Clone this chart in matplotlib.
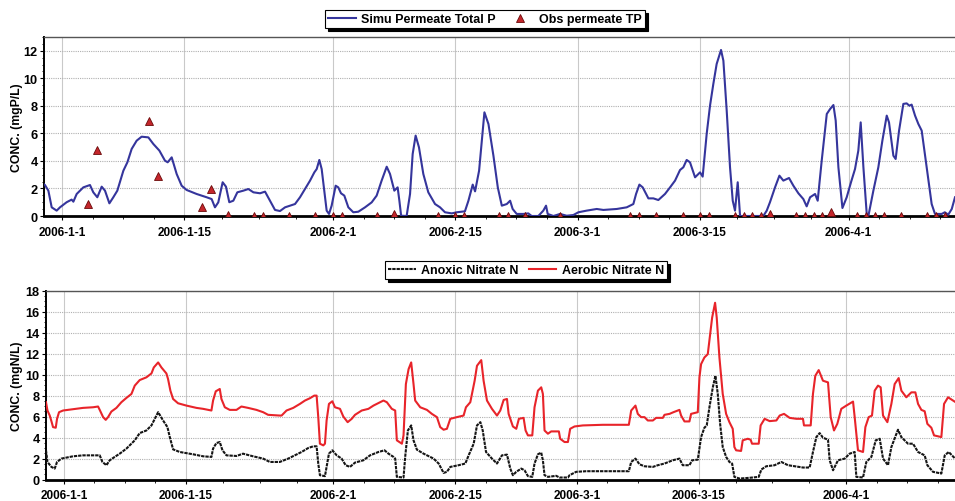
import numpy as np
import matplotlib
matplotlib.use("Agg")
import matplotlib.pyplot as plt
import matplotlib.dates as mdates
from matplotlib.ticker import FixedLocator, AutoMinorLocator, FuncFormatter

plt.rcParams["font.family"] = ["Liberation Sans", "DejaVu Sans"]
plt.rcParams["font.weight"] = "bold"

START = np.datetime64("2006-01-01T00:00")

# ---------------- data (days after 2006-01-01) ----------------
tp_sim_days = [-2.06, -1.95, -1.56, -1.18, -0.61, -0.23, 0.53, 1.1, 1.3, 1.68, 2.44, 3.2, 3.58, 4.04,
               4.54, 4.92, 5.42, 5.87, 6.33, 7.02, 7.48, 7.97, 8.54, 9.11, 9.88, 10.45, 11.14, 11.78,
               12.09, 12.55, 13.12, 13.69, 14.26, 15.4, 16.55, 17.12, 17.5, 17.88, 18.38, 18.76,
               19.14, 19.6, 20.06, 20.75, 21.32, 21.9, 22.66, 23.23, 23.8, 24.37, 24.94, 25.52,
               26.09, 26.66, 27.23, 27.8, 28.38, 28.87, 29.14, 29.44, 29.71, 30.01, 30.28, 30.55,
               30.85, 31.31, 31.61, 31.92, 32.3, 32.76, 33.33, 33.9, 34.67, 35.43, 36.0, 36.57,
               37.15, 37.53, 38.02, 38.4, 38.6, 38.8, 39.43, 39.82, 40.12, 40.46, 40.84, 41.34,
               41.91, 42.68, 43.25, 43.82, 44.59, 45.16, 46.1, 46.5, 46.99, 47.26, 47.72, 48.33,
               48.79, 49.36, 49.86, 50.32, 50.89, 51.27, 51.56, 52.02, 52.78, 53.35, 53.73, 54.5,
               55.07, 55.38, 55.57, 56.22, 56.98, 57.74, 58.5, 59.08, 60.03, 61.18, 61.94, 63.47,
               64.61, 65.37, 65.68, 66.06, 66.44, 67.09, 67.66, 68.23, 68.99, 69.57, 70.14, 70.71,
               71.09, 71.47, 71.85, 72.43, 73.0, 73.3, 73.76, 74.14, 74.52, 74.9, 75.4, 75.67,
               76.05, 76.43, 76.74, 77.0, 77.31, 77.58, 78.15, 80.24, 80.63, 81.0, 81.58, 82.08,
               82.53, 83.18, 83.68, 84.25, 84.82, 85.2, 85.59, 86.16, 86.46, 86.92, 87.5, 87.88,
               88.26, 88.52, 88.83, 89.29, 89.78, 90.27, 90.73, 91.11, 91.38, 91.69, 92.07, 92.26,
               92.83, 93.4, 93.86, 94.36, 94.62, 95.12, 95.38, 95.77, 96.26, 96.64, 96.95, 97.21,
               97.6, 97.98, 98.36, 98.93, 99.5, 99.88, 100.65, 101.0, 101.4, 101.8, 102.17]
tp_sim_vals = [2.3, 2.25, 1.84, 0.63, 0.39, 0.63, 1.0, 1.19, 1.04, 1.6, 2.08, 2.25, 1.72, 1.36,
               2.13, 1.84, 0.92, 1.36, 1.84, 3.29, 3.9, 4.87, 5.47, 5.76, 5.71, 5.23, 4.75, 4.02,
               3.9, 4.26, 3.05, 2.2, 1.89, 1.6, 1.36, 1.23, 0.63, 0.99, 2.45, 2.13,
               1.0, 1.11, 1.72, 1.84, 1.96, 1.72, 1.65, 1.77, 1.11, 0.44, 0.36, 0.63,
               0.75, 0.87, 1.36, 1.96, 2.57, 3.17, 3.41, 4.07, 3.41, 1.84, 0.39, 0.15,
               0.75, 2.2, 2.08, 1.65, 1.48, 0.63, 0.27, 0.31, 0.63, 0.99, 1.48, 2.57,
               3.58, 3.05, 1.84, 2.08, 1.11, 0.02, 0.0, 1.6, 4.5, 5.84, 4.99, 3.05,
               1.72, 0.87, 0.63, 0.27, 0.19, 0.27, 0.34, 1.11, 2.28, 1.79, 3.29, 7.53,
               6.68, 4.38, 2.08, 0.75, 0.87, 1.11, 0.51, 0.15, 0.15, 0.19, 0.0, 0.0,
               0.39, 0.75, 0.15, 0.0, 0.15, 0.02, 0.07, 0.27, 0.39, 0.51, 0.44, 0.51,
               0.63, 0.87, 1.6, 2.28, 2.08, 1.28, 1.28, 1.16, 1.6, 2.08, 2.57, 3.34,
               3.54, 4.07, 3.9, 2.81, 3.17, 2.86, 5.96, 8.01, 9.59, 11.04, 12.06, 11.28,
               7.65, 3.54, 1.11, 0.39, 2.45, 0.0, 0.0, 0.0, 0.39, 1.0, 2.08, 2.93,
               2.57, 2.76, 2.2, 1.65, 1.23, 0.7, 1.36, 1.6, 1.11, 4.02, 7.41, 7.77,
               8.06, 6.93, 3.54, 0.58, 1.36, 2.45, 3.41, 4.75, 6.8, 3.54, 0.15, 0.0,
               1.84, 3.54, 5.47, 7.29, 6.8, 4.38, 4.14, 6.2, 8.14, 8.18, 8.01, 8.09,
               7.29, 6.68, 6.2, 3.54, 0.87, 0.15, 0.15, 0.27, 0.1, 0.51, 1.36]

tp_obs_days = [3, 4, 10, 11, 16, 17, 19, 22, 23, 26, 29, 31, 32, 36, 38, 43, 45, 46, 50, 51, 53,
               57, 65, 66, 68, 71, 73, 74, 77, 78, 79, 80, 81, 84, 85, 86, 87, 88, 91, 92, 93, 94,
               96, 99, 100, 101]
tp_obs_vals = [0.9, 4.8, 6.9, 2.9, 0.65, 1.95, 0.05, 0.0, 0.0, 0.0, 0.0, 0.0, 0.0, 0.0, 0.15, 0.0,
               0.0, 0.0, 0.0, 0.0, 0.0, 0.0, 0.0, 0.0, 0.0, 0.0, 0.0, 0.0, 0.0, 0.0, 0.0, 0.0, 0.15,
               0.0, 0.0, 0.0, 0.0, 0.3, 0.0, 0.0, 0.0, 0.0, 0.0, 0.0, 0.0, 0.0]

aerobic_days = [-2.07, -1.9, -1.64, -1.45, -1.26, -0.95, -0.8, -0.57, -0.11, 1.04, 2.19, 3.34, 3.92,
                4.11, 4.5, 4.8, 5.07, 5.45, 6.03, 6.6, 7.18, 7.76, 8.14, 8.71, 9.48, 10.06, 10.33,
                10.83, 11.21, 11.78, 11.97, 12.24, 12.55, 13.12, 14.08, 15.24, 16.0, 16.96, 17.15,
                17.46, 17.92, 18.11, 18.5, 19.07, 19.84, 20.41, 21.18, 22.14, 22.91, 23.48, 24.82,
                25.03, 25.6, 26.37, 27.14, 27.72, 28.29, 28.79, 29.06, 29.25, 29.44, 29.83, 30.02,
                30.21, 30.48, 30.87, 31.17, 31.75, 32.13, 32.63, 33.1, 33.48, 34.25, 35.02, 35.6,
                36.37, 36.75, 37.14, 37.71, 38.1, 38.29, 38.87, 39.06, 39.33, 39.64, 39.94, 40.21,
                40.4, 40.98, 41.75, 42.32, 42.9, 43.28, 43.67, 44.05, 44.44, 45.2, 45.97, 46.24,
                46.74, 47.24, 47.51, 48.0, 48.27, 48.66, 49.23, 49.81, 50.19, 50.58, 50.96, 51.15,
                51.64, 52.03, 52.33, 52.87, 53.1, 53.37, 53.87, 54.13, 54.52, 54.9, 55.09, 55.28,
                55.67, 56.05, 56.93, 57.08, 57.58, 57.97, 58.23, 58.73, 59.69, 61.99, 64.98, 65.25,
                65.74, 66.01, 66.39, 66.78, 67.16, 67.74, 68.12, 68.89, 69.08, 69.66, 70.11, 70.8,
                70.99, 71.38, 71.95, 72.14, 72.91, 73.1, 73.29, 73.67, 74.06, 74.33, 74.56, 74.9,
                75.09, 75.4, 75.78, 76.17, 76.55, 76.93, 77.12, 77.32, 77.89, 78.08, 78.66, 78.99,
                79.15, 79.92, 80.14, 80.6, 81.18, 81.95, 82.33, 82.83, 83.48, 84.25, 85.01, 85.13,
                85.9, 86.16, 86.43, 86.82, 87.31, 87.89, 88.2, 88.58, 88.96, 89.42, 90.0, 90.77,
                90.96, 91.34, 91.92, 92.19, 92.57, 92.95, 93.26, 93.64, 93.95, 94.22, 94.72, 95.18,
                95.56, 96.02, 96.33, 96.9, 97.48, 97.94, 98.25, 98.63, 99.01, 99.32, 99.78, 100.09,
                100.93, 101.24, 101.7, 102.5]
aerobic_vals = [7.36, 6.57, 6.09, 5.56, 4.99, 4.93, 5.78, 6.41, 6.57, 6.69, 6.82, 6.88, 6.95,
                6.63, 5.94, 5.68, 5.94, 6.47, 6.82, 7.36, 7.77, 8.15, 8.94, 9.47, 9.73, 10.1, 10.67,
                11.15, 10.67, 10.1, 9.57, 8.46, 7.67, 7.26, 7.04, 6.82, 6.73, 6.57, 7.52,
                8.4, 8.62, 7.67, 6.88, 6.63, 6.63, 6.95, 6.82, 6.63, 6.41, 6.16, 6.09,
                6.09, 6.57, 6.82, 7.2, 7.52, 7.74, 7.99, 7.99, 5.94, 3.41, 3.25, 3.41,
                5.62, 7.2, 7.45, 6.88, 6.73, 6.0, 5.46, 5.78, 6.16, 6.57, 6.73, 7.04,
                7.36, 7.52, 7.36, 6.73, 6.57, 3.73, 3.41, 4.2, 9.09, 10.51, 11.15, 9.09,
                7.52, 6.88, 6.63, 6.25, 5.94, 4.99, 4.74, 4.83, 5.78, 5.94, 6.09, 6.88,
                7.36, 9.41, 10.83, 11.37, 9.41, 7.52, 6.73, 6.09, 6.57, 7.58, 7.67, 6.25,
                5.05, 4.83, 5.78, 5.87, 4.67, 4.2, 4.2, 6.88, 8.46, 8.78, 8.15, 4.67,
                4.36, 4.58, 4.58, 3.88, 3.57, 3.57, 4.83, 5.05, 5.15, 5.21, 5.21, 6.57,
                7.04, 6.25, 5.94, 5.94, 5.62, 5.62, 5.87, 5.87, 6.16, 6.25, 6.41, 6.63,
                6.09, 5.53, 5.53, 6.25, 6.41, 9.73, 10.99, 11.62, 11.94, 13.83, 15.41, 16.83,
                15.41, 11.62, 8.15, 6.25, 5.46, 4.83, 3.09, 2.78, 2.72, 3.73, 3.88, 3.79,
                3.41, 3.41, 5.15, 5.78, 5.56, 5.62, 6.09, 6.25, 5.87, 5.78, 5.78, 5.15,
                5.15, 8.15, 9.88, 10.42, 9.41, 9.25, 5.94, 4.67, 5.3, 6.73, 7.04, 7.42,
                5.94, 2.78, 2.62, 4.99, 5.94, 6.09, 8.46, 8.94, 8.78, 6.09, 5.46, 7.2,
                9.09, 9.66, 8.46, 7.83, 8.3, 8.3, 7.2, 6.63, 6.5, 5.3, 4.93, 4.2,
                4.04, 7.2, 7.83, 7.4]

anoxic_days = [-2.07, -1.9, -1.45, -1.07, -0.8, -0.3, 1.04, 2.19, 4.11, 4.42, 4.88, 5.26, 5.83,
               6.41, 7.18, 7.76, 8.14, 8.71, 9.48, 10.06, 10.83, 11.4, 11.9, 12.17, 12.55, 13.32,
               14.86, 16.0, 16.96, 17.15, 17.53, 17.92, 18.23, 18.69, 19.84, 20.6, 21.75, 22.91,
               23.68, 24.82, 25.79, 26.56, 27.33, 28.1, 28.67, 29.06, 29.25, 29.44, 30.02, 30.21,
               30.48, 30.87, 31.37, 31.94, 32.4, 32.9, 33.48, 34.44, 35.21, 36.17, 36.87, 37.33,
               37.91, 38.1, 38.29, 39.06, 39.25, 39.56, 39.94, 40.21, 40.6, 41.37, 42.52, 43.1,
               43.67, 44.05, 44.44, 45.4, 46.17, 46.55, 47.13, 47.51, 47.9, 48.17, 48.55, 49.23,
               49.81, 50.38, 50.96, 51.34, 51.64, 52.03, 52.6, 52.98, 53.37, 53.87, 54.13, 54.52,
               54.9, 55.09, 55.28, 55.67, 56.62, 57.0, 57.97, 58.16, 58.92, 60.07, 62.75, 64.98,
               65.25, 65.74, 66.2, 66.78, 67.74, 68.31, 69.08, 70.03, 70.8, 71.18, 71.95, 72.26,
               72.91, 73.29, 73.67, 73.94, 74.25, 74.64, 74.94, 75.21, 75.48, 75.78, 76.17, 76.55,
               76.86, 77.12, 77.7, 78.85, 79.92, 80.22, 80.79, 81.75, 82.52, 83.29, 85.01, 85.78,
               86.16, 86.55, 86.93, 87.31, 87.89, 88.08, 88.47, 89.04, 89.81, 90.38, 90.96, 91.15,
               91.92, 92.3, 92.88, 93.38, 93.84, 94.22, 94.79, 95.18, 95.94, 96.33, 97.09, 97.67,
               98.25, 99.01, 99.32, 99.97, 100.93, 101.32, 101.78, 102.5]
anoxic_vals = [2.78, 1.67, 1.2, 1.04, 1.67, 1.99, 2.21, 2.3, 2.3, 1.67, 1.36, 1.83, 2.15,
               2.46, 2.94, 3.41, 3.73, 4.42, 4.67, 5.15, 6.41, 5.62, 4.99, 4.04, 2.87, 2.62,
               2.4, 2.21, 2.15, 2.94, 3.47, 3.57, 2.78, 2.3, 2.24, 2.46, 2.21, 1.99,
               1.67, 1.67, 1.99, 2.3, 2.62, 3.0, 3.16, 3.16, 1.52, 0.41, 0.32, 1.2,
               2.46, 2.78, 2.3, 1.99, 1.36, 1.2, 1.61, 1.83, 2.3, 2.62, 2.78, 2.46,
               2.15, 1.99, 0.25, 0.19, 2.15, 4.67, 5.15, 3.73, 2.84, 2.46, 1.99, 1.52,
               0.63, 0.73, 1.2, 1.36, 1.52, 2.3, 3.41, 5.15, 5.46, 4.67, 2.62, 1.99,
               1.52, 2.3, 2.37, 1.04, 0.41, 0.73, 1.04, 0.88, 0.32, 0.25, 1.52, 2.4,
               2.56, 1.83, 0.41, 0.25, 0.35, 0.19, 0.19, 0.41, 0.73, 0.79, 0.79, 0.79,
               1.67, 1.99, 1.45, 1.26, 1.2, 1.36, 1.52, 1.83, 1.99, 1.36, 1.36, 1.83,
               1.89, 4.04, 4.93, 5.15, 6.88, 8.78, 9.88, 8.15, 5.3, 3.09, 2.15, 1.67,
               1.52, 0.25, 0.09, 0.16, 0.25, 0.95, 1.26, 1.36, 1.67, 1.36, 1.14, 1.14,
               2.62, 4.04, 4.42, 3.98, 3.79, 1.83, 0.88, 1.83, 1.99, 2.46, 2.62, 0.25,
               0.19, 1.67, 2.15, 3.73, 3.88, 1.99, 1.36, 3.09, 4.74, 4.04, 3.41, 3.41,
               2.62, 2.3, 1.36, 0.73, 0.57, 2.3, 2.62, 2.0]

tick_dates = ["2006-01-01", "2006-01-15", "2006-02-01", "2006-02-15",
              "2006-03-01", "2006-03-15", "2006-04-01", "2006-04-15"]
p_yticks = [0, 2, 4, 6, 8, 10, 12]
n_yticks = [0, 2, 4, 6, 8, 10, 12, 14, 16, 18]


def to_dates(days):
    return START + np.round(np.asarray(days, dtype=float) * 1440).astype("timedelta64[m]")


def fmt_date(x, pos=None):
    d = mdates.num2date(x)
    return f"{d.year}-{d.month}-{d.day}"


W, H = 955, 502
fig = plt.figure(figsize=(W / 100, H / 100), dpi=100)


def px_axes(left, top, right, bottom):
    return fig.add_axes([left / W, 1 - bottom / H, (right - left) / W, (bottom - top) / H])


ax1 = px_axes(44, 38, 955, 217)
ax2 = px_axes(46, 291.5, 955, 480.5)

major_num = mdates.date2num(np.array(tick_dates, dtype="datetime64[D]"))
minor_num = []
for a, b in zip(major_num[:-1], major_num[1:]):
    minor_num += [a + (b - a) * k / 4 for k in (1, 2, 3)]

blue = "#35359C"
red = "#E8242A"

# ---- top panel ----
ax1.plot(to_dates(tp_sim_days), tp_sim_vals, color=blue, lw=1.5, zorder=3,
         label="Simu Permeate Total P")
ax1.plot(to_dates(tp_obs_days), tp_obs_vals, linestyle="none", marker="^", markersize=5.5,
         markerfacecolor="#C4262B", markeredgecolor="#6A0A0A", markeredgewidth=0.6, zorder=4,
         label="Obs permeate TP")
ax1.set_ylim(0, 13)
ax1.set_xlim(to_dates([-2.06])[0], to_dates([102.17])[0])
ax1.set_yticks(p_yticks)
ax1.set_ylabel("CONC. (mgP/L)", fontsize=8.8, fontweight="bold")
ax1.yaxis.set_label_coords(-0.0235, 0.5)

# ---- bottom panel ----
ax2.plot(to_dates(anoxic_days), anoxic_vals, color="#151515", lw=1.5,
         linestyle=(0, (1.6, 0.45)), zorder=3, label="Anoxic Nitrate N")
ax2.plot(to_dates(aerobic_days), aerobic_vals, color=red, lw=1.5, zorder=3,
         label="Aerobic Nitrate N")
ax2.set_ylim(0, 18)
ax2.set_xlim(to_dates([-2.07])[0], to_dates([102.5])[0])
ax2.set_yticks(n_yticks)
ax2.set_ylabel("CONC. (mgN/L)", fontsize=8.8, fontweight="bold")
ax2.yaxis.set_label_coords(-0.0255, 0.5)

for ax in (ax1, ax2):
    ax.xaxis.set_major_locator(FixedLocator(major_num))
    ax.xaxis.set_minor_locator(FixedLocator(minor_num))
    ax.xaxis.set_major_formatter(FuncFormatter(fmt_date))
    ax.yaxis.set_minor_locator(AutoMinorLocator(4))
    ax.grid(axis="x", which="major", color="#c9c9c9", lw=0.8, linestyle="-", zorder=0)
    ax.grid(axis="y", which="major", color="#b0b0b0", lw=0.8, linestyle=(0, (1, 1)), zorder=0)
    ax.set_axisbelow(True)
    ax.spines["right"].set_visible(False)
    ax.spines["top"].set_color("#555555")
    ax.spines["top"].set_linewidth(1.0)
    ax.spines["left"].set_color("black")
    ax.spines["left"].set_linewidth(1.4)
    ax.spines["bottom"].set_color("black")
    ax.spines["bottom"].set_linewidth(2.0)
    ax.tick_params(axis="x", which="major", length=3, width=0.8, pad=4, labelsize=8.5)
    ax.tick_params(axis="x", which="minor", length=2, width=0.6)
    ax.tick_params(axis="y", which="major", length=3, width=0.8, pad=1.5, labelsize=9.2)
    ax.tick_params(axis="y", which="minor", length=1.5, width=0.6)
    for lab in ax.get_xticklabels() + ax.get_yticklabels():
        lab.set_fontweight("bold")

leg_kw = dict(ncol=2, frameon=True, fancybox=False, edgecolor="black", framealpha=1,
              shadow={"color": "black", "alpha": 1}, prop={"size": 9, "weight": "bold"},
              handlelength=2.2, handletextpad=0.45, columnspacing=0.8, borderpad=0.25,
              borderaxespad=0)
leg1 = ax1.legend(loc="upper left", bbox_to_anchor=(325 / W, 1 - 11 / H),
                  bbox_transform=fig.transFigure, **leg_kw)
leg2 = ax2.legend(loc="upper left", bbox_to_anchor=(385 / W, 1 - 262 / H),
                  bbox_transform=fig.transFigure, **leg_kw)
for leg in (leg1, leg2):
    leg.get_frame().set_linewidth(0.8)

fig.savefig("out.png", dpi=100)
